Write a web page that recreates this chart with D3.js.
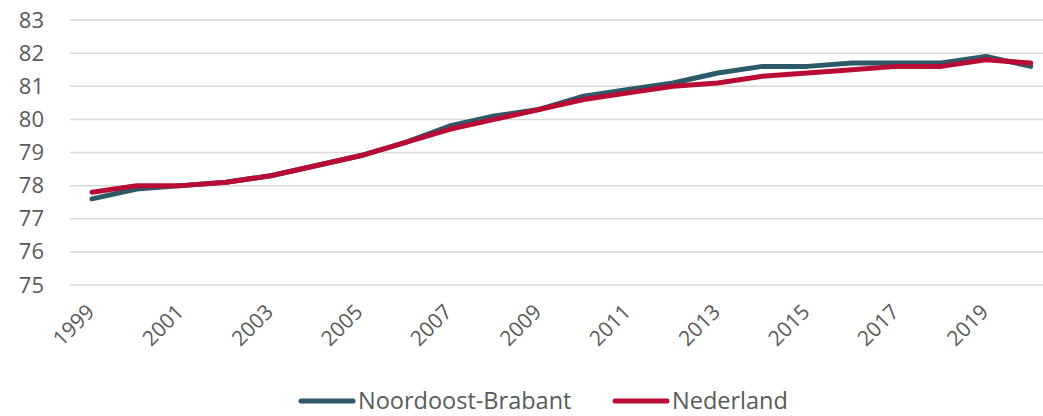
<!DOCTYPE html>
<html>
<head>
<meta charset="utf-8">
<script src="https://cdn.jsdelivr.net/npm/d3@7"></script>
<style>
    body { margin: 0; background: #fff; }
    text { font-family: "Open Sans", sans-serif; fill: #595959; }
</style>
</head>
<body>
<script>
(function () {

    const years = d3.range(1999, 2021);
    const brabant = [77.6, 77.9, 78.0, 78.1, 78.3, 78.6, 78.9, 79.3, 79.8, 80.1, 80.3,
        80.7, 80.9, 81.1, 81.4, 81.6, 81.6, 81.7, 81.7, 81.7, 81.9, 81.6];
    const nederland = [77.8, 78.0, 78.0, 78.1, 78.3, 78.6, 78.9, 79.3, 79.7, 80.0, 80.3,
        80.6, 80.8, 81.0, 81.1, 81.3, 81.4, 81.5, 81.6, 81.6, 81.8, 81.7];
    const yTicks = [75, 76, 77, 78, 79, 80, 81, 82, 83];
    const xLabels = years.filter(y => y % 2 === 1);

    const series = [
        {name: 'Noordoost-Brabant', values: brabant, color: '#2d5968'},
        {name: 'Nederland', values: nederland, color: '#b80c34'}
    ];

    const width = 1043, height = 416;
    const margin = {top: 20, left: 70};

    const svg = d3.select('body')
        .append('svg')
        .attr('width', width)
        .attr('height', height);

    const x = d3.scalePoint()
        .domain(years)
        .range([margin.left + 22, margin.left + 22 + 44.7 * 21]);

    const y = d3.scaleLinear()
        .domain([75, 83])
        .range([285, margin.top]);

    // gridlines
    svg.append('g')
        .selectAll('line')
        .data(yTicks)
        .join('line')
        .attr('x1', margin.left)
        .attr('x2', width)
        .attr('y1', d => y(d))
        .attr('y2', d => y(d))
        .attr('stroke', '#d9d9d9')
        .attr('stroke-width', 1.5);

    const yAxis = d3.axisLeft(y).tickValues(yTicks).tickSize(0).tickPadding(0);
    svg.append('g')
        .attr('transform', 'translate(44, 0)')
        .call(yAxis)
        .call(g => g.select('.domain').remove())
        .selectAll('text')
        .style('font-size', '22px')
        .attr('fill', '#595959');

    const xAxis = d3.axisBottom(x).tickValues(xLabels).tickSize(0).tickPadding(0);
    svg.append('g')
        .attr('transform', 'translate(0, 300)')
        .call(xAxis)
        .call(g => g.select('.domain').remove())
        .selectAll('text')
        .style('font-size', '21px')
        .attr('fill', '#595959')
        .attr('text-anchor', 'end')
        .attr('dy', '0.35em')
        .attr('transform', 'translate(-2, 8) rotate(-45)');

    const line = d3.line()
        .x((d, i) => x(years[i]))
        .y(d => y(d));

    svg.append('g')
        .selectAll('path')
        .data(series)
        .join('path')
        .attr('d', d => line(d.values))
        .attr('fill', 'none')
        .attr('stroke', d => d.color)
        .attr('stroke-width', 5)
        .attr('stroke-linecap', 'round')
        .attr('stroke-linejoin', 'round');

    // legend
    const legend = svg.append('g').attr('transform', 'translate(0, 401)');
    const legendX = [301, 615];
    series.forEach((s, i) => {
        const g = legend.append('g').attr('transform', 'translate(' + legendX[i] + ', 0)');
        g.append('line')
            .attr('x1', 0).attr('x2', 52)
            .attr('stroke', s.color)
            .attr('stroke-width', 5)
            .attr('stroke-linecap', 'round');
        g.append('text')
            .attr('x', 57)
            .attr('y', 8)
            .style('font-size', '23.5px')
            .text(s.name);
    });

})();
</script>
</body>
</html>
